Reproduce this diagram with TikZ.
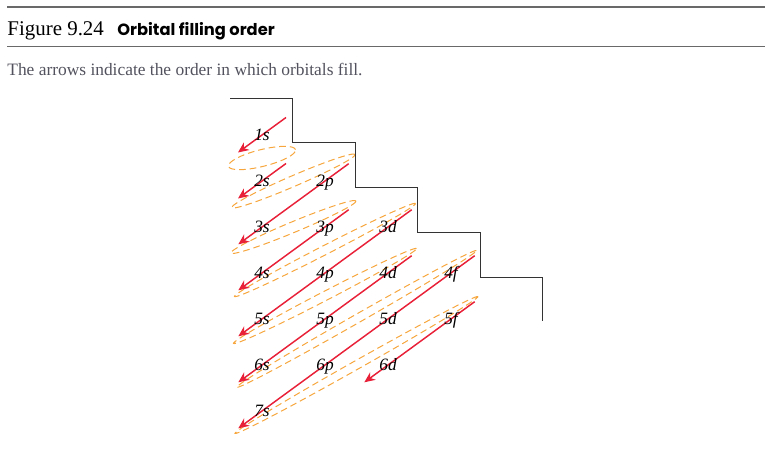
\documentclass[tikz,border=0pt]{standalone}
\usepackage{fontspec}
\setmainfont{Liberation Serif}
\newfontfamily\headfont{Poppins}
\usepackage{tikz}
\usetikzlibrary{arrows.meta, calc, positioning, backgrounds}

\definecolor{fillred}{RGB}{232,32,56}
\definecolor{ringorange}{RGB}{246,166,60}
\definecolor{rulegray}{RGB}{105,105,105}
\definecolor{captiongray}{RGB}{82,82,94}

\begin{document}
\begin{tikzpicture}[
            x = 0.75pt, y = -0.75pt, % one unit is one pixel, y runs down
            > = {Stealth[length=8pt, width=7pt, inset=2.5pt]}, % arrow head style
            node distance = 34.5pt, % distance between rows
            semithick % line style
        ]
        \tikzstyle{orbital}=[
            inner sep = 0pt,
            text height = 8.8pt,
            text depth = 0pt,
            font = \fontsize{13}{15}\selectfont\itshape
        ]
        \tikzstyle{fill order}=[->, draw = fillred, line width = 1.1pt]
        \tikzstyle{ring}=[draw = ringorange, line width = 0.75pt, dash pattern = on 5pt off 3pt]
        \tikzstyle{rule}=[draw = rulegray, line width = 1.1pt]

        \useasboundingbox (0,0) rectangle (771,459);

        % header
        \draw[rule] (7,7) -- (765,7);
        \node[anchor = base west, inner sep = 0pt, font = \fontsize{15.7}{18}\selectfont] (fig) at (7,35.7) {Figure 9.24};
        \node[anchor = base west, inner sep = 0pt, font = \fontsize{12.2}{14}\headfont\bfseries] (title) at (117,35.7) {Orbital filling order};
        \draw[rule] (7,46.7) -- (765,46.7);
        \node[anchor = base west, inner sep = 0pt, text = captiongray, font = \fontsize{13.05}{15}\selectfont] (caption) at (7,76) {The arrows indicate the order in which orbitals fill.};

        % orbitals
        \node[orbital] (s1) at (262,135) {1s};
        \node[orbital] (s2)[below of=s1] {2s};
        \node[orbital] (s3)[below of=s2] {3s};
        \node[orbital] (s4)[below of=s3] {4s};
        \node[orbital] (s5)[below of=s4] {5s};
        \node[orbital] (s6)[below of=s5] {6s};
        \node[orbital] (s7)[below of=s6] {7s};
        \node[orbital] (p2)[right of=s2, node distance = 47.25pt] {2p};
        \node[orbital] (p3)[right of=s3, node distance = 47.25pt] {3p};
        \node[orbital] (p4)[right of=s4, node distance = 47.25pt] {4p};
        \node[orbital] (p5)[right of=s5, node distance = 47.25pt] {5p};
        \node[orbital] (p6)[right of=s6, node distance = 47.25pt] {6p};
        \node[orbital] (d3)[right of=p3, node distance = 47.25pt] {3d};
        \node[orbital] (d4)[right of=p4, node distance = 47.25pt] {4d};
        \node[orbital] (d5)[right of=p5, node distance = 47.25pt] {5d};
        \node[orbital] (d6)[right of=p6, node distance = 47.25pt] {6d};
        \node[orbital] (f4)[right of=d4, node distance = 47.25pt] {4f};
        \node[orbital] (f5)[right of=d5, node distance = 47.25pt] {5f};

        % staircase
        \draw[draw = black!80, line width = 0.7pt] (230,98) -| (292.5,142.5) -| (355,187) -| (417.5,232) -| (480,277) -| (542.5,321.5);

        \begin{scope}[on background layer]
            \coordinate (e1) at ($(s1)!.5!(s2)$);
            \coordinate (e2) at ($(s2)!.5!(p2)$);
            \coordinate (e3) at ($(s3)!.5!(p3)$);
            \coordinate (e4) at ($(s4)!.5!(d3)$);
            \coordinate (e5) at ($(s5)!.5!(d4)$);
            \coordinate (e6) at ($(s6)!.5!(f4)$);
            \coordinate (e7) at ($(s7)!.5!(f5)$);
            \draw[ring, rotate around = {14:(e1)}] (e1) ellipse (25.9pt and 6.3pt);
            \draw[ring, rotate around = {23.3:(e2)}] (e2) ellipse (50.3pt and 4pt);
            \draw[ring, rotate around = {22.6:(e3)}] (e3) ellipse (50.8pt and 4pt);
            \draw[ring, rotate around = {27.2:(e4)}] (e4) ellipse (76.3pt and 3.4pt);
            \draw[ring, rotate around = {27.4:(e5)}] (e5) ellipse (77.3pt and 3.4pt);
            \draw[ring, rotate around = {29.7:(e6)}] (e6) ellipse (103.5pt and 3.2pt);
            \draw[ring, rotate around = {29.4:(e7)}] (e7) ellipse (104.6pt and 3.2pt);

            \draw[fill order] ($(s1)+(24,-17.5)$) -- ($(s1)+(-24,17.5)$);
            \draw[fill order] ($(s2)+(24,-17.5)$) -- ($(s2)+(-24,17.5)$);
            \draw[fill order] ($(p2)!-22pt!(s3)$) -- ($(s3)!-22pt!(p2)$);
            \draw[fill order] ($(p3)!-22pt!(s4)$) -- ($(s4)!-22pt!(p3)$);
            \draw[fill order] ($(d3)!-22pt!(s5)$) -- ($(s5)!-22pt!(d3)$);
            \draw[fill order] ($(d4)!-22pt!(s6)$) -- ($(s6)!-22pt!(d4)$);
            \draw[fill order] ($(f4)!-22pt!(s7)$) -- ($(s7)!-22pt!(f4)$);
            \draw[fill order] ($(f5)!-22pt!(d6)$) -- ($(d6)!-22pt!(f5)$);
        \end{scope}
    \end{tikzpicture}
\end{document}
